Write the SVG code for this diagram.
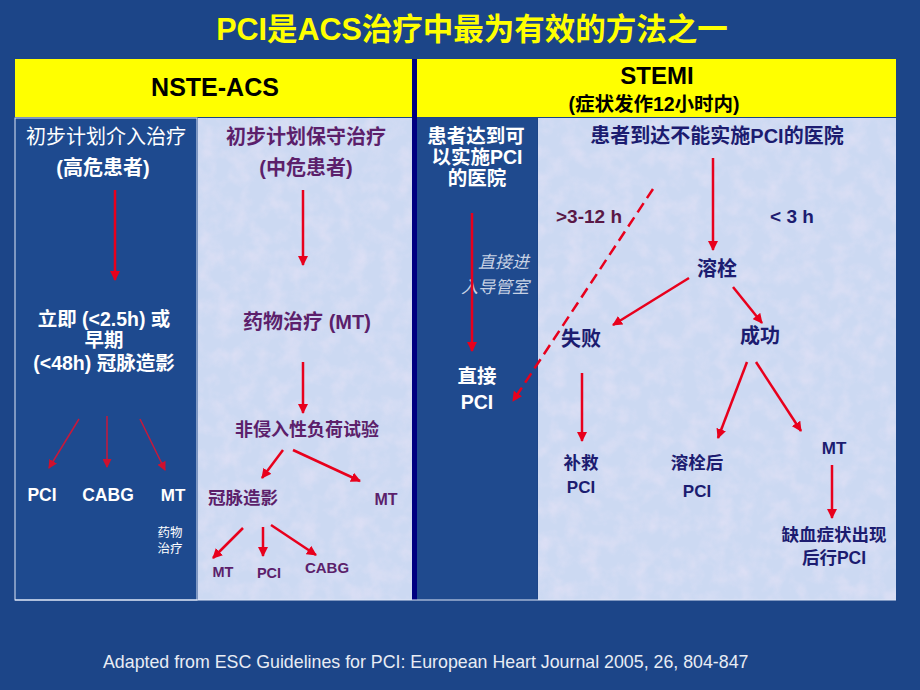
<svg xmlns="http://www.w3.org/2000/svg" width="920" height="690" viewBox="0 0 920 690">
<defs>
<marker id="ah" markerUnits="userSpaceOnUse" markerWidth="10" markerHeight="10" refX="9" refY="5" orient="auto"><path d="M0,0 L10,5 L0,10 z" fill="#e8001c"/></marker>
<marker id="ahd" markerUnits="userSpaceOnUse" markerWidth="9" markerHeight="9" refX="8" refY="4.5" orient="auto"><path d="M0,0 L9,4.5 L0,9 z" fill="#d0102e"/></marker>
<filter id="tex" x="0" y="0" width="100%" height="100%">
<feTurbulence type="fractalNoise" baseFrequency="0.06" numOctaves="3" seed="4" result="n"/>
<feColorMatrix in="n" type="matrix" values="0 0 0 0 0.88  0 0 0 0 0.80  0 0 0 0 0.94  0 0 0 1.4 -0.55" result="c"/>
<feComposite in="c" in2="SourceGraphic" operator="in"/>
</filter>
</defs>
<style>
text{font-family:"Liberation Sans","Noto Sans CJK SC",sans-serif;text-anchor:middle}
.b{font-weight:bold}
.w{fill:#ffffff}
.p{fill:#5c1f6b}
.n{fill:#1c1c70}
.ar{stroke:#e8001c;stroke-width:2.5;fill:none;marker-end:url(#ah)}
.ard{stroke:#c8183a;stroke-width:1.5;fill:none;marker-end:url(#ahd)}
</style>
<rect x="0" y="0" width="920" height="690" fill="#1c4588"/>
<text x="472" y="40" class="b" font-size="30.5" fill="#ffff00">PCI是ACS治疗中最为有效的方法之一</text>

<g id="table">
<rect x="15" y="59" width="881" height="58" fill="#ffff00"/>
<rect x="412" y="59" width="5" height="541" fill="#000080"/>
<rect x="15" y="118" width="182" height="482" fill="#1e4a8f" stroke="#e0e8f8" stroke-width="1"/>
<rect x="198" y="118" width="214" height="482" fill="#ccd9f2"/>
<rect x="198" y="118" width="214" height="482" fill="#ccd9f2" filter="url(#tex)" opacity="0.6"/>
<rect x="417" y="118" width="120" height="482" fill="#1f4a8e"/>
<rect x="538" y="118" width="358" height="482" fill="#ccd9f2"/>
<rect x="538" y="118" width="358" height="482" fill="#ccd9f2" filter="url(#tex)" opacity="0.6"/>
<line x1="15" y1="600" x2="896" y2="600" stroke="#e0e8f8" stroke-width="1"/>
</g>

<g id="hdr-nste"><text x="215" y="96" class="b" font-size="25" fill="#000">NSTE-ACS</text></g>
<g id="hdr-stemi">
<text x="657" y="84" class="b" font-size="24" fill="#000">STEMI</text>
<text x="654" y="111" class="b" font-size="19.5" fill="#000">(症状发作12小时内)</text>
</g>

<g id="c1-top">
<text x="106" y="144" class="w" font-size="20">初步计划介入治疗</text>
<text x="103" y="175" class="w b" font-size="20">(高危患者)</text>
</g>
<g id="c1-mid">
<text x="104" y="326" class="w b" font-size="19.5">立即 (&lt;2.5h) 或</text>
<text x="104" y="347" class="w b" font-size="19.5">早期</text>
<text x="104" y="370" class="w b" font-size="19.5">(&lt;48h) 冠脉造影</text>
</g>
<g id="c1-pci"><text x="42" y="501" class="w b" font-size="17.5">PCI</text></g>
<g id="c1-cabg"><text x="108" y="501" class="w b" font-size="17.5">CABG</text></g>
<g id="c1-mt">
<text x="173" y="501" class="w b" font-size="17">MT</text>
<text x="170" y="537" class="w" font-size="12.5">药物</text>
<text x="170" y="553" class="w" font-size="12.5">治疗</text>
</g>

<g id="c2-top">
<text x="306" y="144" class="p b" font-size="20">初步计划保守治疗</text>
<text x="306" y="175" class="p b" font-size="20">(中危患者)</text>
</g>
<g id="c2-mt"><text x="307" y="329" class="p b" font-size="20">药物治疗 (MT)</text></g>
<g id="c2-test"><text x="307" y="436" class="p b" font-size="18">非侵入性负荷试验</text></g>
<g id="c2-angio"><text x="243" y="504" class="p b" font-size="17.5">冠脉造影</text></g>
<g id="c2-mt2"><text x="386" y="505" class="p b" font-size="16">MT</text></g>
<g id="c2-mt3"><text x="223" y="577" class="p b" font-size="14.5">MT</text></g>
<g id="c2-pci"><text x="269" y="578" class="p b" font-size="14.5">PCI</text></g>
<g id="c2-cabg"><text x="327" y="573" class="p b" font-size="15">CABG</text></g>

<g id="c3-top">
<text x="476" y="143" class="w b" font-size="19.5">患者达到可</text>
<text x="477" y="164" class="w b" font-size="19.5">以实施PCI</text>
<text x="477" y="185" class="w b" font-size="19.5">的医院</text>
</g>
<g id="c3-label">
<text x="529" y="268" fill="#c8d2e4" font-size="17" font-style="italic" style="text-anchor:end">直接进</text>
<text x="529" y="293" fill="#c8d2e4" font-size="17" font-style="italic" style="text-anchor:end">入导管室</text>
</g>
<g id="c3-pci">
<text x="477" y="383" class="w b" font-size="19.5">直接</text>
<text x="477" y="409" class="w b" font-size="19.5">PCI</text>
</g>

<g id="c4-top"><text x="717" y="143" class="n b" font-size="20">患者到达不能实施PCI的医院</text></g>
<g id="c4-late"><text x="589" y="223" class="b" font-size="19" fill="#5a1846">&gt;3-12 h</text></g>
<g id="c4-early"><text x="792" y="223" class="n b" font-size="19">&lt; 3 h</text></g>
<g id="c4-lysis"><text x="717" y="276" class="n b" font-size="20">溶栓</text></g>
<g id="c4-fail"><text x="581" y="346" class="n b" font-size="20">失败</text></g>
<g id="c4-succ"><text x="760" y="343" class="n b" font-size="20">成功</text></g>
<g id="c4-rescue">
<text x="581" y="469" class="n b" font-size="17.5">补救</text>
<text x="581" y="493" class="n b" font-size="17">PCI</text>
</g>
<g id="c4-post">
<text x="697" y="469" class="n b" font-size="17.5">溶栓后</text>
<text x="697" y="497" class="n b" font-size="17">PCI</text>
</g>
<g id="c4-mt"><text x="834" y="454" class="n b" font-size="17">MT</text></g>
<g id="c4-isch">
<text x="834" y="541" class="n b" font-size="17.5">缺血症状出现</text>
<text x="834" y="564" class="n b" font-size="17.5">后行PCI</text>
</g>

<g id="connectors">
<line x1="115" y1="190" x2="115" y2="280" class="ar"/>
<line x1="79" y1="419" x2="49" y2="468" class="ard"/>
<line x1="107" y1="416" x2="107" y2="467" class="ard"/>
<line x1="140" y1="419" x2="165" y2="470" class="ard"/>
<line x1="303" y1="190" x2="303" y2="265" class="ar"/>
<line x1="303" y1="362" x2="303" y2="413" class="ar"/>
<line x1="283" y1="450" x2="262" y2="478" class="ar" stroke-width="1.8"/>
<line x1="293" y1="450" x2="360" y2="481" class="ar" stroke-width="1.8"/>
<line x1="243" y1="528" x2="213" y2="558" class="ar" stroke-width="1.8"/>
<line x1="263" y1="527" x2="263" y2="556" class="ar" stroke-width="1.8"/>
<line x1="271" y1="525" x2="316" y2="555" class="ar" stroke-width="1.8"/>
<line x1="472" y1="213" x2="472" y2="351" class="ar" stroke-width="3"/>
<line x1="653" y1="189" x2="513" y2="401" class="ar" stroke-width="3" stroke-dasharray="11 6"/>
<line x1="713" y1="158" x2="713" y2="250" class="ar"/>
<line x1="689" y1="278" x2="613" y2="325" class="ar"/>
<line x1="733" y1="287" x2="762" y2="323" class="ar"/>
<line x1="582" y1="373" x2="582" y2="441" class="ar"/>
<line x1="747" y1="362" x2="718" y2="438" class="ar"/>
<line x1="756" y1="362" x2="801" y2="431" class="ar"/>
<line x1="832" y1="465" x2="832" y2="518" class="ar"/>
</g>

<g id="footer"><text x="103" y="668" font-size="17.8" fill="#e8ecf4" style="text-anchor:start">Adapted from ESC Guidelines for PCI: European Heart Journal 2005, 26, 804-847</text></g>
</svg>
